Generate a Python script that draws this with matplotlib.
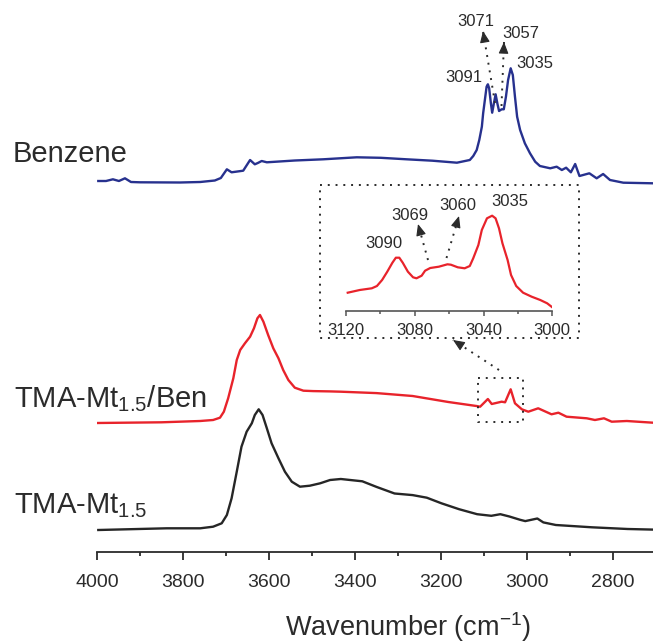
import matplotlib
matplotlib.use('Agg')
import matplotlib.pyplot as plt
from matplotlib.ticker import MultipleLocator

plt.rcParams['font.family'] = ['Liberation Sans', 'DejaVu Sans']
plt.rcParams['mathtext.default'] = 'regular'

# spectra, wavenumber (cm-1) and absorbance (a.u., offset already applied)
benz_wn = [3997, 3979, 3963, 3949, 3935, 3921, 3900, 3807, 3760, 3726, 3712, 3698, 3687,
           3660, 3644, 3633, 3626, 3617, 3605, 3540, 3474, 3396, 3340, 3280, 3220, 3163,
           3133, 3125, 3117, 3111, 3105, 3102, 3098, 3094, 3091, 3088, 3084, 3081, 3077,
           3073, 3069, 3065, 3059, 3054, 3049, 3044, 3038, 3033, 3028, 3023, 3016, 3005,
           2993, 2981, 2970, 2946, 2931, 2919, 2909, 2898, 2888, 2878, 2855, 2838, 2823,
           2807, 2776, 2707]
benz_ab = [370.7, 370.7, 372.4, 370.7, 373.4, 369.7, 369.4, 369.2, 369.7, 371.2, 373.7,
           382.4, 379.4, 381.0, 391.7, 387.4, 388.7, 390.7, 389.4, 391.2, 392.4, 394.4,
           393.9, 392.4, 391.0, 389.0, 391.7, 395.7, 401.7, 411.7, 425.0, 438.4, 451.7,
           465.0, 467.4, 463.4, 448.4, 439.0, 448.4, 457.4, 448.4, 440.7, 442.4, 442.4,
           455.0, 471.7, 483.4, 476.7, 455.0, 435.0, 421.7, 408.4, 398.4, 390.0, 385.7,
           383.4, 385.0, 381.7, 384.0, 379.4, 387.7, 375.7, 378.4, 373.4, 377.7, 371.7,
           369.0, 368.4]

ben_wn = [4000, 3850, 3760, 3730, 3714, 3705, 3695, 3683, 3675, 3667, 3656, 3644, 3635,
          3627, 3621, 3613, 3602, 3590, 3578, 3567, 3555, 3540, 3520, 3497, 3458, 3433,
          3350, 3266, 3183, 3116, 3109, 3091, 3082, 3059, 3051, 3038, 3028, 3012, 2997,
          2974, 2943, 2927, 2908, 2861, 2842, 2821, 2803, 2768, 2707]
ben_ab = [128.7, 129.4, 130.7, 131.7, 134.0, 140.0, 153.4, 173.4, 191.7, 201.7, 208.4,
          215.0, 223.4, 233.4, 236.7, 230.0, 216.7, 203.4, 193.4, 181.7, 171.7, 164.0,
          161.0, 160.6, 160.3, 160.0, 158.6, 155.7, 149.7, 145.6, 145.0, 152.7, 147.7,
          150.0, 149.4, 162.4, 148.4, 142.4, 140.0, 143.4, 137.4, 139.0, 135.0, 133.4,
          131.7, 133.4, 130.0, 130.7, 129.0]

tma_wn = [3997, 3838, 3760, 3730, 3710, 3698, 3687, 3675, 3664, 3652, 3640, 3633, 3624,
          3615, 3605, 3594, 3578, 3563, 3547, 3528, 3505, 3481, 3458, 3433, 3383, 3350,
          3308, 3266, 3233, 3199, 3158, 3116, 3083, 3062, 3041, 3016, 3004, 2976, 2962,
          2933, 2849, 2766, 2707]
tma_ab = [21.7, 23.4, 23.4, 25.0, 28.4, 36.7, 53.4, 80.0, 105.0, 120.0, 128.4, 136.7,
          142.4, 136.7, 123.4, 108.4, 93.4, 80.0, 70.0, 65.0, 66.0, 68.4, 71.7, 72.7,
          70.4, 64.8, 58.2, 56.6, 54.0, 48.4, 42.5, 37.5, 35.9, 37.5, 35.2, 31.9, 30.6,
          33.2, 29.3, 26.7, 24.4, 22.7, 22.1]

# inset: TMA-Mt1.5/Ben, 3120-3000 cm-1
ins_wn = [3119, 3112, 3105, 3102, 3099, 3096, 3093, 3091, 3089, 3087, 3084, 3081, 3079,
          3076, 3074, 3071, 3066, 3061, 3059, 3055, 3051, 3048, 3046, 3043, 3041, 3038,
          3035, 3033, 3031, 3029, 3026, 3024, 3021, 3017, 3012, 3007, 3003, 3000]
ins_ab = [18.0, 20.7, 22.4, 24.7, 30.7, 39.0, 48.0, 53.0, 53.0, 48.0, 39.0, 33.4, 32.4,
          35.0, 40.0, 42.7, 44.0, 46.4, 46.0, 43.4, 42.4, 44.7, 52.4, 65.7, 80.7, 92.4,
          95.0, 92.4, 82.4, 67.4, 50.7, 35.7, 24.7, 18.0, 14.0, 10.7, 7.4, 3.4]

main_ticks = [4000, 3800, 3600, 3400, 3200, 3000, 2800]
inset_ticks = [3120, 3080, 3040, 3000]

W, H = 653, 643
fig = plt.figure(figsize=(W / 100, H / 100), dpi=100)
fig.patch.set_facecolor('white')

ink = '#2b2b2b'

ax = fig.add_axes([97 / W, 1 - 551.7 / H, 1 - 97 / W, 551.7 / H])
ax.plot(benz_wn, benz_ab, color='#27318e', lw=1.7)
ax.plot(ben_wn, ben_ab, color='#e8232b', lw=1.7)
ax.plot(tma_wn, tma_ab, color='#262626', lw=1.7)
ax.set_xlim(4000, 2707)
ax.set_ylim(0, 551.7)
for s in ['top', 'right', 'left']:
    ax.spines[s].set_visible(False)
ax.spines['bottom'].set_color(ink)
ax.spines['bottom'].set_linewidth(1.3)
ax.set_yticks([])
ax.set_xticks(main_ticks)
ax.xaxis.set_minor_locator(MultipleLocator(100))
ax.tick_params(axis='x', which='major', length=6, width=1.3, color=ink, pad=10,
               labelsize=14, labelcolor=ink)
ax.tick_params(axis='x', which='minor', length=3, width=1.3, color=ink)
ax.set_facecolor('none')

# inset
x0 = 346
x1 = 552.3
axi = fig.add_axes([x0 / W, 1 - 310.7 / H, (x1 - x0) / W, 120 / H])
axi.plot(ins_wn, ins_ab, color='#e8232b', lw=1.6)
axi.set_xlim(3120, 3000)
axi.set_ylim(0, 120)
for s in ['top', 'right', 'left']:
    axi.spines[s].set_visible(False)
axi.spines['bottom'].set_color('#555555')
axi.spines['bottom'].set_linewidth(1.2)
axi.set_yticks([])
axi.set_xticks(inset_ticks)
axi.xaxis.set_minor_locator(MultipleLocator(20))
axi.tick_params(axis='x', which='major', length=3.5, width=1.1, color='#555555', pad=5,
                labelsize=12, labelcolor=ink)
axi.tick_params(axis='x', which='minor', length=2.5, width=1.1, color='#555555')
axi.set_facecolor('none')

# overlay in pixel units for labels, boxes and arrows
ov = fig.add_axes([0, 0, 1, 1])
ov.set_xlim(0, W)
ov.set_ylim(H, 0)
ov.axis('off')
ov.set_facecolor('none')

dots = dict(color=ink, lw=1.4, linestyle=(0, (1, 3)))


def dotted_arrow(start, tip):
    ov.plot([start[0], tip[0]], [start[1], tip[1]], **dots)
    dx = tip[0] - start[0]
    dy = tip[1] - start[1]
    n = (dx ** 2 + dy ** 2) ** 0.5
    back = (tip[0] - 9 * dx / n, tip[1] - 9 * dy / n)
    ov.annotate('', xy=tip, xytext=back,
                arrowprops=dict(arrowstyle='-|>,head_length=0.7,head_width=0.3',
                                color=ink, lw=0.8, shrinkA=0, shrinkB=0))


def dotted_box(xa, ya, xb, yb):
    ov.plot([xa, xb, xb, xa, xa], [ya, ya, yb, yb, ya], **dots)


dotted_box(320, 185, 579, 338)
dotted_box(478, 378, 523, 422)
dotted_arrow((499, 370), (453, 340))

tfont = dict(color=ink, fontsize=21)
ov.text(13, 161.7, 'Benzene', va='baseline', **tfont)
ov.text(14, 407.7, 'TMA-Mt$_{1.5}$/Ben', va='baseline', **tfont)
ov.text(14, 513.3, 'TMA-Mt$_{1.5}$', va='baseline', **tfont)

pfont = dict(color=ink, fontsize=12, ha='center', va='center')
ov.text(464, 77.5, '3091', **pfont)
ov.text(476, 21, '3071', **pfont)
ov.text(521, 34, '3057', **pfont)
ov.text(534.5, 64, '3035', **pfont)
dotted_arrow((495, 103), (483, 31))
dotted_arrow((501.5, 106), (504, 42))

ov.text(384, 244, '3090', **pfont)
ov.text(409.7, 215, '3069', **pfont)
ov.text(457.5, 205, '3060', **pfont)
ov.text(509.5, 201.5, '3035', **pfont)
dotted_arrow((428, 260), (418, 224))
dotted_arrow((446.5, 258), (459, 216))

ov.text(408, 627, 'Wavenumber (cm$^{-1}$)', ha='center', va='center', color=ink,
        fontsize=19.5)

fig.savefig('out.png', dpi=100)
